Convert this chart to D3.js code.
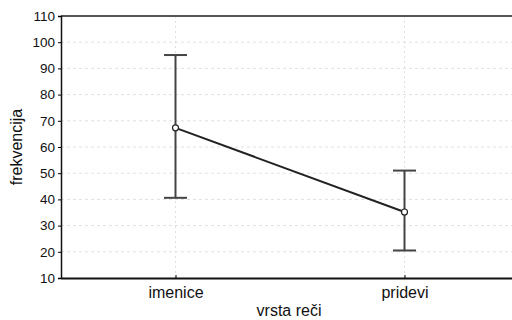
<!DOCTYPE html>
<html>
<head>
<meta charset="utf-8">
<script src="https://cdn.jsdelivr.net/npm/d3@7"></script>
<style>
  body { margin: 0; background: #fff; }
  svg { display: block; font-family: "Liberation Sans", Arial, sans-serif; }
</style>
</head>
<body>
<div id="chart"></div>
<script>
// data
var categories = ["imenice", "pridevi"];
var means = [67.3, 35.2];
var upper = [95.1, 51.0];
var lower = [40.6, 20.5];
var yTicks = [10, 20, 30, 40, 50, 60, 70, 80, 90, 100, 110];

var width = 512, height = 320;
var margin = {top: 16, right: -7, bottom: 42, left: 61};

var svg = d3.select("#chart").append("svg")
  .attr("width", width).attr("height", height);

var x = d3.scalePoint()
  .domain(categories)
  .range([margin.left, width - margin.right])
  .padding(0.5);

var y = d3.scaleLinear()
  .domain([10, 110])
  .range([height - margin.bottom, margin.top]);

// grid
svg.append("g").selectAll("line.hg")
  .data(yTicks.slice(1, -1)).enter().append("line")
  .attr("x1", margin.left).attr("x2", width)
  .attr("y1", function(d) { return y(d); }).attr("y2", function(d) { return y(d); })
  .attr("stroke", "#e0e0e0").attr("stroke-dasharray", "3,3");
svg.append("g").selectAll("line.vg")
  .data(categories).enter().append("line")
  .attr("x1", function(d) { return x(d); }).attr("x2", function(d) { return x(d); })
  .attr("y1", y(110)).attr("y2", y(10))
  .attr("stroke", "#e0e0e0").attr("stroke-dasharray", "2,3");

// frame
svg.append("line").attr("x1", margin.left).attr("x2", width)
  .attr("y1", y(110)).attr("y2", y(110))
  .attr("stroke", "#555").attr("stroke-width", 2);

var yAxis = svg.append("g")
  .attr("transform", "translate(" + margin.left + ",0)")
  .call(d3.axisLeft(y).tickValues(yTicks).tickSize(3).tickPadding(3));
yAxis.select(".domain").attr("stroke", "#111").attr("stroke-width", 1.5);
yAxis.selectAll("text").attr("font-size", 13.5).attr("fill", "#111")
  .attr("font-family", "Liberation Sans, Arial, sans-serif");

var xAxis = svg.append("g")
  .attr("transform", "translate(0," + y(10) + ")")
  .call(d3.axisBottom(x).tickSizeInner(-3).tickSizeOuter(0).tickPadding(9));
xAxis.select(".domain").attr("stroke", "#111").attr("stroke-width", 2);
xAxis.selectAll("text").attr("font-size", 16).attr("fill", "#111")
  .attr("font-family", "Liberation Sans, Arial, sans-serif");

// axis titles
svg.append("text")
  .attr("transform", "translate(22," + ((y(10) + y(110)) / 2) + ") rotate(-90)")
  .attr("text-anchor", "middle")
  .attr("font-size", 16).attr("fill", "#111")
  .text("frekvencija");
svg.append("text")
  .attr("x", 289).attr("y", 316)
  .attr("text-anchor", "middle")
  .attr("font-size", 16).attr("fill", "#111")
  .text("vrsta reči");

// error bars
var bars = svg.append("g").selectAll("g")
  .data(categories).enter().append("g")
  .attr("stroke", "#444").attr("stroke-width", 2);
bars.append("line")
  .attr("x1", function(d) { return x(d); }).attr("x2", function(d) { return x(d); })
  .attr("y1", function(d, i) { return y(upper[i]); })
  .attr("y2", function(d, i) { return y(lower[i]); });
bars.append("line")
  .attr("x1", function(d) { return x(d) - 11.5; }).attr("x2", function(d) { return x(d) + 11.5; })
  .attr("y1", function(d, i) { return y(upper[i]); })
  .attr("y2", function(d, i) { return y(upper[i]); });
bars.append("line")
  .attr("x1", function(d) { return x(d) - 11.5; }).attr("x2", function(d) { return x(d) + 11.5; })
  .attr("y1", function(d, i) { return y(lower[i]); })
  .attr("y2", function(d, i) { return y(lower[i]); });

// mean line
var line = d3.line()
  .x(function(d, i) { return x(categories[i]); })
  .y(function(d) { return y(d); });
svg.append("path")
  .datum(means)
  .attr("d", line)
  .attr("fill", "none").attr("stroke", "#222").attr("stroke-width", 2);

svg.append("g").selectAll("circle")
  .data(means).enter().append("circle")
  .attr("cx", function(d, i) { return x(categories[i]); })
  .attr("cy", function(d) { return y(d); })
  .attr("r", 3)
  .attr("fill", "#fff").attr("stroke", "#222").attr("stroke-width", 1.2);
</script>
</body>
</html>
